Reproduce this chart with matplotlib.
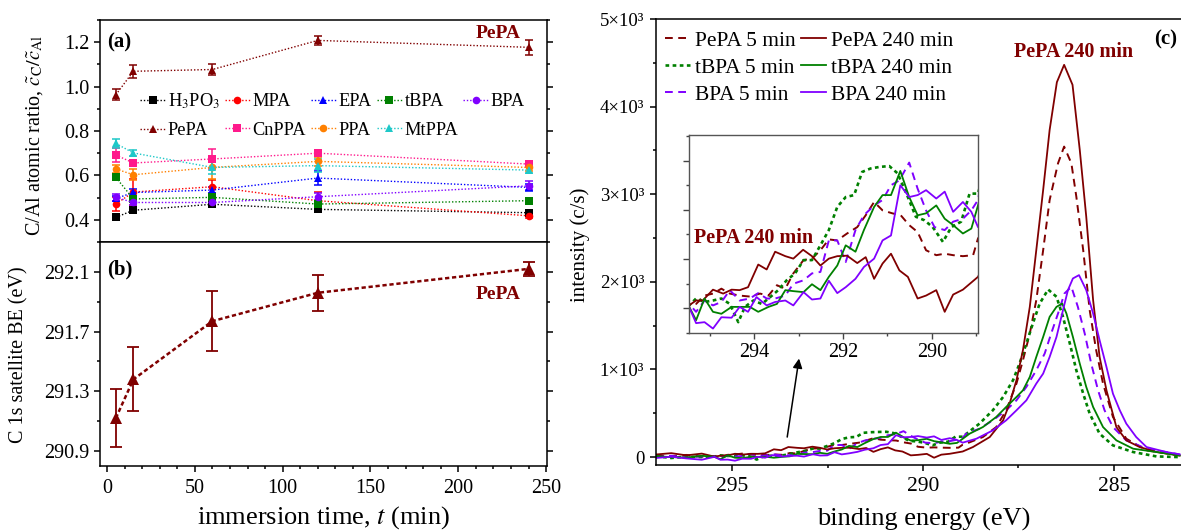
import matplotlib
matplotlib.use("Agg")
import matplotlib.pyplot as plt
import matplotlib.ticker as ticker

plt.rcParams["font.family"] = ["Liberation Serif", "DejaVu Serif"]
plt.rcParams["mathtext.fontset"] = "stix"
plt.rcParams["axes.linewidth"] = 1.1

W, H, DPI = 1181, 531, 100

# ---------------- (a) C/Al atomic ratio vs immersion time ----------------
t_min = [5, 15, 60, 120, 240]

h3po3_ratio = [0.411, 0.443, 0.470, 0.447, 0.432]
h3po3_err = [0.010, 0.012, 0.010, 0.012, 0.010]
mpa_ratio = [0.471, 0.525, 0.549, 0.486, 0.418]
mpa_err = [0.030, 0.060, 0.030, 0.040, 0.010]
epa_ratio = [0.496, 0.523, 0.534, 0.588, 0.546]
epa_err = [0.010, 0.015, 0.015, 0.030, 0.015]
tbpa_ratio = [0.591, 0.494, 0.501, 0.471, 0.486]
tbpa_err = [0.010, 0.010, 0.010, 0.010, 0.010]
bpa_ratio = [0.501, 0.478, 0.478, 0.504, 0.553]
bpa_err = [0.015, 0.010, 0.010, 0.015, 0.020]
pepa_ratio = [0.963, 1.069, 1.077, 1.208, 1.177]
pepa_err = [0.025, 0.030, 0.025, 0.020, 0.035]
cnppa_ratio = [0.692, 0.656, 0.674, 0.700, 0.651]
cnppa_err = [0.030, 0.010, 0.045, 0.010, 0.015]
ppa_ratio = [0.629, 0.603, 0.636, 0.663, 0.636]
ppa_err = [0.020, 0.025, 0.050, 0.020, 0.015]
mtppa_ratio = [0.744, 0.701, 0.636, 0.644, 0.624]
mtppa_err = [0.020, 0.015, 0.030, 0.030, 0.015]

# ---------------- (b) C 1s satellite binding energy, PePA ----------------
pepa_be = [291.12, 291.38, 291.77, 291.96, 292.12]
pepa_be_err = [0.195, 0.215, 0.200, 0.120, 0.045]
be_ticks = [290.9, 291.3, 291.7, 292.1]

# ---------------- (c) C 1s spectra ----------------
pepa5_be = [297.0, 296.6, 296.2, 295.8,
            295.47, 295.31, 295.12, 294.93, 294.74, 294.55, 294.33, 294.10, 293.87, 293.68,
            293.49, 293.30, 293.12, 292.89, 292.70, 292.51, 292.32, 292.13, 291.91, 291.68,
            291.49, 291.30, 291.11, 290.89, 290.70, 290.51, 290.32, 290.13, 289.90, 289.71,
            289.52, 289.30, 289.07, 288.96,
            288.87, 288.43, 288.08, 287.82, 287.55, 287.38, 287.20, 287.03, 286.85, 286.68,
            286.46, 286.30, 286.11, 285.98, 285.80, 285.63, 285.46, 285.28, 285.02, 284.67,
            284.14, 283.27]
pepa5_int = [20, 10, 25, 5,
             6, 9, 26, 30, 40, 30, 26, 24, 30, 26,
             47, 40, 71, 98, 101, 118, 140, 138, 152, 165,
             189, 216, 199, 193, 189, 169, 155, 118, 108, 111,
             108, 106, 108, 142,
             153, 229, 343, 534, 839, 1105, 1410, 1791, 2362, 2934,
             3353, 3544, 3353, 2972, 2362, 1677, 1220, 839, 458, 210,
             77, 19]

pepa240_be = [297.0, 296.6, 296.2, 295.8,
              295.47, 295.31, 295.16, 294.93, 294.70, 294.51, 294.33, 294.14, 293.91, 293.72,
              293.53, 293.30, 293.12, 292.90, 292.70, 292.51, 292.32, 292.13, 291.91, 291.68,
              291.49, 291.30, 291.11, 290.92, 290.73, 290.54, 290.32, 290.13, 289.90, 289.71,
              289.52, 289.30, 288.96,
              288.69, 288.25, 287.90, 287.73, 287.55, 287.38, 287.20, 287.03, 286.85, 286.68,
              286.49, 286.30, 286.08, 285.89, 285.72, 285.54, 285.37, 285.19, 284.93, 284.67,
              284.32, 283.88, 283.27]
pepa240_int = [30, 45, 20, 40,
               6, 16, 16, 38, 30, 38, 37, 43, 89, 79,
               115, 106, 101, 119, 106, 87, 101, 106, 107, 92,
               104, 60, 91, 111, 77, 64, 20, 26, 37, -7,
               28, 38, 64,
               115, 229, 420, 610, 877, 1220, 1715, 2362, 3048, 3734,
               4279, 4477, 4249, 3506, 2743, 1791, 1143, 762, 343, 191,
               115, 58, 19]

tbpa5_be = [297.0, 296.6, 296.2, 295.8,
            295.47, 295.31, 295.12, 294.93, 294.74, 294.55, 294.36, 294.21, 294.02, 293.83,
            293.64, 293.46, 293.27, 293.08, 292.89, 292.70, 292.51, 292.32, 292.13, 291.94,
            291.75, 291.57, 291.38, 291.19, 290.96, 290.77, 290.54, 290.36, 290.17, 289.98,
            289.75, 289.56, 289.34, 289.15, 288.96,
            288.52, 288.17, 287.90, 287.64, 287.47, 287.29, 287.12, 286.94, 286.72, 286.50,
            286.33, 286.15, 285.98, 285.80, 285.63, 285.37, 285.02, 284.49, 283.88, 283.27]
tbpa5_int = [10, -10, 5, 0,
             6, 20, 13, 16, 20, 9, -28, 3, 16, 9,
             23, 37, 57, 71, 98, 98, 128, 159, 206, 226,
             230, 277, 284, 287, 289, 274, 226, 186, 179, 165,
             135, 165, 176, 233, 233,
             382, 534, 686, 877, 1067, 1296, 1525, 1753, 1913, 1830,
             1601, 1296, 991, 724, 496, 267, 134, 58, 8, 0]

tbpa240_be = [297.0, 296.6, 296.2, 295.8,
              295.47, 295.31, 295.12, 294.93, 294.74, 294.51, 294.29, 294.10, 293.91, 293.68,
              293.49, 293.30, 293.12, 292.89, 292.70, 292.51, 292.32, 292.13, 291.94, 291.72,
              291.53, 291.30, 291.11, 290.92, 290.71, 290.51, 290.32, 290.13, 289.90, 289.71,
              289.52, 289.30, 289.11, 288.96,
              288.78, 288.43, 288.08, 287.82, 287.55, 287.38, 287.20, 287.03, 286.85, 286.68,
              286.50, 286.35, 286.24, 286.07, 285.89, 285.72, 285.54, 285.28, 284.93, 284.49,
              283.88, 283.27]
tbpa240_int = [10, 0, -5, 15,
               4, -24, 20, -7, -11, 3, 3, 3, -7, 3,
               9, 37, 35, 33, 49, 37, 64, 87, 128, 115,
               159, 206, 230, 230, 279, 226, 189, 193, 209, 182,
               169, 152, 162, 209,
               267, 343, 458, 572, 686, 762, 915, 1143, 1372, 1601,
               1715, 1753, 1639, 1372, 1067, 801, 572, 343, 191, 96,
               58, 19]

bpa5_be = [297.0, 296.6, 296.2, 295.8,
           295.47, 295.31, 295.12, 294.93, 294.74, 294.55, 294.33, 294.10, 293.91, 293.72,
           293.53, 293.30, 293.12, 292.89, 292.70, 292.51, 292.32, 292.13, 291.94, 291.72,
           291.53, 291.30, 291.11, 290.92, 290.73, 290.51, 290.32, 290.13, 289.94, 289.71,
           289.52, 289.30, 289.11, 288.96,
           288.87, 288.52, 288.17, 287.82, 287.55, 287.29, 287.03, 286.81, 286.64, 286.46,
           286.29, 286.11, 285.94, 285.76, 285.59, 285.41, 285.24, 285.02, 284.67, 284.14,
           283.27]
bpa5_int = [0, 15, -5, 10,
            9, -7, 16, 6, 13, 37, 16, 20, 31, 20,
            20, 26, 50, 57, 71, 74, 138, 138, 94, 159,
            189, 209, 220, 250, 260, 296, 243, 199, 165, 159,
            176, 182, 199, 220,
            267, 324, 420, 534, 648, 801, 991, 1182, 1410, 1639,
            1868, 1944, 1715, 1410, 1067, 762, 534, 343, 191, 96,
            31]

bpa240_be = [297.0, 296.6, 296.2, 295.8,
             295.47, 295.31, 295.12, 294.93, 294.74, 294.51, 294.33, 294.14, 293.95, 293.72,
             293.53, 293.30, 293.12, 292.89, 292.70, 292.51, 292.32, 292.13, 291.94, 291.72,
             291.53, 291.30, 291.11, 290.92, 290.71, 290.51, 290.32, 290.13, 289.90, 289.71,
             289.52, 289.30, 289.11, 288.96,
             288.60, 288.17, 287.82, 287.55, 287.29, 287.03, 286.85, 286.68, 286.50, 286.33,
             286.20, 286.07, 285.91, 285.72, 285.54, 285.37, 285.19, 285.02, 284.84, 284.67,
             284.41, 284.14, 283.62, 283.27]
bpa240_int = [-10, 5, -15, -30,
              3, -30, -28, -41, -18, -19, 3, -7, 23, 6,
              13, 16, 6, 33, 18, 20, 56, 31, 43, 60,
              84, 101, 138, 148, 250, 226, 230, 240, 223, 237,
              196, 216, 196, 165,
              210, 305, 420, 534, 648, 839, 953, 1143, 1372, 1677,
              1906, 2039, 2077, 1906, 1639, 1334, 1029, 724, 534, 382,
              229, 115, 58, 31]

WINE = "#800000"
GREEN = "#008000"
VIOLET = "#8000FF"


def rect(left, top, right, bottom):
    return [left / W, 1 - bottom / H, (right - left) / W, (bottom - top) / H]


fig = plt.figure(figsize=(W / DPI, H / DPI), dpi=DPI)
ax_a = fig.add_axes(rect(100, 20, 547, 242))
ax_b = fig.add_axes(rect(100, 242, 547, 466))
ax_c = fig.add_axes(rect(656, 19, 1190, 465))
ax_in = fig.add_axes(rect(689, 135, 978, 333))

# ---- panel (a)
series_a = [
    (r"H$_3$PO$_3$", h3po3_ratio, h3po3_err, "black", "s"),
    ("PePA", pepa_ratio, pepa_err, WINE, "^"),
    ("MPA", mpa_ratio, mpa_err, "#FF0000", "o"),
    ("CnPPA", cnppa_ratio, cnppa_err, "#FF1A8C", "s"),
    ("EPA", epa_ratio, epa_err, "#0000FF", "^"),
    ("PPA", ppa_ratio, ppa_err, "#FF8000", "o"),
    ("tBPA", tbpa_ratio, tbpa_err, GREEN, "s"),
    ("MtPPA", mtppa_ratio, mtppa_err, "#1EC8C8", "^"),
    ("BPA", bpa_ratio, bpa_err, VIOLET, "o"),
]
handles = []
for label, vals, err, col, mk in series_a:
    ax_a.errorbar(t_min, vals, yerr=err, fmt="none", ecolor=col, elinewidth=1.1,
                  capsize=3, capthick=1.1, zorder=2)
    ln, = ax_a.plot(t_min, vals, linestyle=(0, (1, 1.4)), linewidth=1.0, color=col,
                    marker=mk, markersize=5.5, markeredgewidth=0, label=label, zorder=3)
    handles.append(ln)

ax_a.legend(handles=handles, ncol=5, loc="upper left", bbox_to_anchor=(0.0895, 0.678),
            frameon=False, fontsize=13.2, handlelength=1.37, handletextpad=0.15,
            columnspacing=0.26, labelspacing=0.62, borderpad=0, borderaxespad=0,
            numpoints=1)
ax_a.set_xlim(-4, 250.5)
ax_a.set_ylim(0.3, 1.3)
ax_a.yaxis.set_major_locator(ticker.MultipleLocator(0.2))
ax_a.yaxis.set_minor_locator(ticker.MultipleLocator(0.1))
ax_a.yaxis.set_major_formatter(ticker.FormatStrFormatter("%.1f"))
ax_a.xaxis.set_major_locator(ticker.MultipleLocator(50))
ax_a.xaxis.set_minor_locator(ticker.MultipleLocator(10))
ax_a.tick_params(axis="x", labelbottom=False)
ax_a.set_ylabel(r"C/Al atomic ratio, $\tilde{c}_\mathrm{C}/\tilde{c}_\mathrm{Al}$", fontsize=14.5)
ax_a.yaxis.set_label_coords(-0.123, 0.48)
ax_a.text(0, 1.2, "(a)", fontsize=15, fontweight="bold", ha="left", va="center")
ax_a.text(235.5, 1.238, "PePA", fontsize=14, fontweight="bold", color=WINE,
          ha="right", va="center")

# ---- panel (b)
ax_b.errorbar(t_min, pepa_be, yerr=pepa_be_err, fmt="none", ecolor=WINE,
              elinewidth=1.3, capsize=4.5, capthick=1.3)
ax_b.plot(t_min, pepa_be, linestyle=(0, (1.7, 1.1)), linewidth=1.8, color=WINE,
          marker="^", markersize=8, markeredgewidth=0)
ax_b.set_xlim(-4, 250.5)
ax_b.set_ylim(290.8, 292.3)
ax_b.yaxis.set_major_locator(ticker.FixedLocator(be_ticks))
ax_b.yaxis.set_minor_locator(ticker.FixedLocator([291.1, 291.5, 291.9]))
ax_b.yaxis.set_major_formatter(ticker.FormatStrFormatter("%.1f"))
ax_b.xaxis.set_major_locator(ticker.MultipleLocator(50))
ax_b.xaxis.set_minor_locator(ticker.MultipleLocator(10))
ax_b.set_ylabel("C 1s satellite BE (eV)", fontsize=14.5)
ax_b.yaxis.set_label_coords(-0.159, 0.496)
ax_b.set_xlabel(r"immersion time, $t$ (min)", fontsize=19)
ax_b.xaxis.set_label_coords(0.499, -0.17)
ax_b.text(0, 292.115, "(b)", fontsize=15, fontweight="bold", ha="left", va="center")
ax_b.text(235.5, 291.95, "PePA", fontsize=14, fontweight="bold", color=WINE,
          ha="right", va="center")

for ax in (ax_a, ax_b):
    ax.tick_params(which="both", direction="out", right=True, top=False, labelsize=14.5,
                   pad=3, width=1.1)
    ax.tick_params(which="major", length=4.5)
    ax.tick_params(which="minor", length=2.5)
ax_b.tick_params(axis="x", pad=5)

# ---- panel (c)
dash5 = (0, (4, 2.8))
dot5 = (0, (1.4, 1.3))
spectra = [
    ("PePA 5 min", pepa5_be, pepa5_int, WINE, dash5, 1.4),
    ("tBPA 5 min", tbpa5_be, tbpa5_int, GREEN, dot5, 1.9),
    ("BPA 5 min", bpa5_be, bpa5_int, VIOLET, dash5, 1.4),
    ("PePA 240 min", pepa240_be, pepa240_int, WINE, "-", 1.3),
    ("tBPA 240 min", tbpa240_be, tbpa240_int, GREEN, "-", 1.3),
    ("BPA 240 min", bpa240_be, bpa240_int, VIOLET, "-", 1.3),
]
for label, be, inten, col, ls, lw in spectra:
    ax_c.plot(be, inten, color=col, linestyle=ls, linewidth=lw, label=label)
    ax_in.plot(be, inten, color=col, linestyle=ls, linewidth=lw)

ax_c.legend(ncol=2, loc="upper left", bbox_to_anchor=(0.017, 0.974), frameon=False,
            fontsize=15.5, handlelength=1.15, handletextpad=0.23, columnspacing=0.28,
            labelspacing=0.33, borderpad=0, borderaxespad=0)
ax_c.set_xlim(297, 283)
ax_c.set_ylim(-90, 5000)
ax_c.xaxis.set_major_locator(ticker.MultipleLocator(5))
ax_c.xaxis.set_minor_locator(ticker.MultipleLocator(2.5))
ax_c.yaxis.set_major_locator(ticker.MultipleLocator(1000))
ax_c.yaxis.set_minor_locator(ticker.MultipleLocator(500))
ax_c.yaxis.set_major_formatter(ticker.FuncFormatter(
    lambda v, pos: "0" if v == 0 else "%d\u00d710\u00b3" % round(v / 1000)))
ax_c.tick_params(which="both", direction="out", top=False, right=False, width=1.1)
ax_c.tick_params(which="major", length=4.5)
ax_c.tick_params(which="minor", length=2.5)
ax_c.tick_params(axis="x", labelsize=15.5, pad=4)
ax_c.tick_params(axis="y", labelsize=13.5, pad=4)
ax_c.set_xlabel("binding energy (eV)", fontsize=19)
ax_c.xaxis.set_label_coords(0.5015, -0.096)
ax_c.set_ylabel("intensity (c/s)", fontsize=15)
ax_c.yaxis.set_label_coords(-0.124, 0.493)
ax_c.text(286.05, 4626, "PePA 240 min", fontsize=14.5, fontweight="bold", color=WINE,
          ha="center", va="center")
ax_c.text(283.64, 4763, "(c)", fontsize=15, fontweight="bold", ha="center", va="center")
ax_c.annotate("", xy=(293.25, 1125), xytext=(293.56, 229),
              arrowprops=dict(arrowstyle="-|>", color="black", lw=1.1,
                              mutation_scale=14, shrinkA=0, shrinkB=0))

# ---- inset: satellite region
ax_in.set_xlim(295.47, 288.96)
ax_in.set_ylim(-50, 352)
ax_in.xaxis.set_major_locator(ticker.MultipleLocator(2))
ax_in.xaxis.set_minor_locator(ticker.FixedLocator([295, 293, 291, 289]))
ax_in.yaxis.set_major_locator(ticker.MultipleLocator(100))
ax_in.yaxis.set_minor_locator(ticker.MultipleLocator(50))
ax_in.yaxis.set_major_formatter(ticker.NullFormatter())
ax_in.tick_params(which="both", direction="out", colors="#444444", width=1.0,
                  labelcolor="black", labelsize=14.5, pad=3)
ax_in.tick_params(which="major", length=4.5)
ax_in.tick_params(which="minor", length=2.5)
for sp in ax_in.spines.values():
    sp.set_color("#555555")
    sp.set_linewidth(1.0)
ax_in.text(295.36, 142, "PePA 240 min", fontsize=14.5, fontweight="bold", color=WINE,
           ha="left", va="center")

fig.savefig("out.png", dpi=DPI)
